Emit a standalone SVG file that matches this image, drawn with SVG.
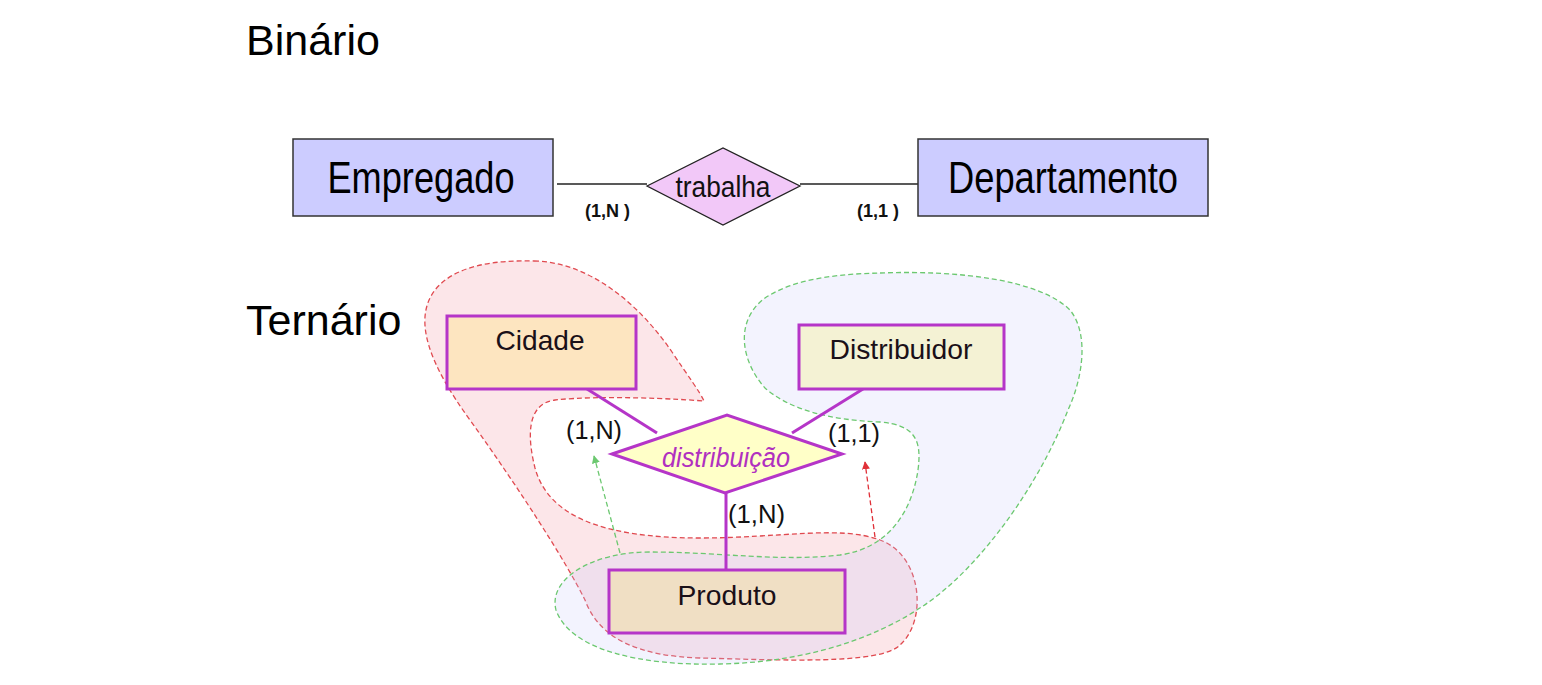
<svg xmlns="http://www.w3.org/2000/svg" width="1542" height="685" viewBox="0 0 1542 685">
<defs>
<style>
.title{font-family:"Liberation Sans",Arial,sans-serif;font-size:43px;fill:#000}
.bent{fill:#ccccff;stroke:#333;stroke-width:1.5}
.btxt{font-family:"Liberation Sans",Arial,sans-serif;font-size:45px;fill:#000;text-anchor:middle}
.blbl{font-family:"Liberation Sans",Arial,sans-serif;font-size:18px;font-weight:bold;fill:#111}
.bline{stroke:#222;stroke-width:1.3;fill:none}
.tent{stroke:#b535c8;stroke-width:3}
.ttxt{font-family:"Liberation Sans",Arial,sans-serif;font-size:28px;fill:#1a1018;text-anchor:middle}
.tline{stroke:#b535c8;stroke-width:3;fill:none}
.card{font-family:"Liberation Sans",Arial,sans-serif;font-size:25px;fill:#111}
.redblob{fill:rgba(235,90,110,0.15);stroke:#e04a50;stroke-width:1.3;stroke-dasharray:5 3}
.greenblob{fill:rgba(200,200,250,0.22);stroke:#6cc870;stroke-width:1.3;stroke-dasharray:5 3}
</style>
<marker id="ag" viewBox="0 0 10 10" refX="9" refY="5" markerWidth="8" markerHeight="8" orient="auto" markerUnits="userSpaceOnUse"><path d="M0,0 L10,5 L0,10 z" fill="#6cc870"/></marker>
<marker id="ar" viewBox="0 0 10 10" refX="9" refY="5" markerWidth="8" markerHeight="8" orient="auto" markerUnits="userSpaceOnUse"><path d="M0,0 L10,5 L0,10 z" fill="#e03038"/></marker>
</defs>
<rect width="1542" height="685" fill="#ffffff"/>

<text class="title" x="246" y="55">Binário</text>
<text class="title" x="246" y="335">Ternário</text>

<g id="blobs">
<path class="redblob" d="M 534 261 C 590 262, 640 305, 672 352 C 688 376, 700 392, 704 401 C 680 399, 600 395, 555 400 C 525 404, 528 440, 535 468 C 548 515, 600 538, 700 538 C 780 538, 840 525, 880 540 C 922 555, 928 620, 900 645 C 880 665, 780 660, 700 658 C 640 656, 600 640, 585 600 C 565 560, 520 490, 470 420 C 430 365, 412 320, 435 290 C 455 265, 495 260, 534 261 Z"/>
<path class="greenblob" d="M 880 273 C 960 270, 1040 280, 1070 310 C 1090 335, 1082 380, 1068 410 C 1045 470, 1000 540, 950 585 C 900 630, 820 662, 720 664 C 640 666, 570 650, 556 610 C 548 580, 590 552, 650 552 C 720 552, 780 562, 840 555 C 890 548, 912 510, 918 470 C 922 440, 915 425, 880 422 C 830 420, 790 410, 765 388 C 740 360, 735 320, 765 298 C 795 278, 840 274, 880 273 Z"/>
</g>

<g id="connectors">
<line class="bline" x1="557" y1="184" x2="647" y2="184"/>
<line class="bline" x1="800" y1="184" x2="918" y2="184"/>
<line class="tline" x1="587" y1="389" x2="657" y2="433"/>
<line class="tline" x1="863" y1="389" x2="792" y2="433"/>
<line class="tline" x1="726" y1="493" x2="726" y2="570"/>
<line x1="620" y1="553" x2="594" y2="456" stroke="#6cc870" stroke-width="1.3" stroke-dasharray="5 3" marker-end="url(#ag)"/>
<line x1="875" y1="537" x2="865" y2="462" stroke="#e03038" stroke-width="1.3" stroke-dasharray="5 3" marker-end="url(#ar)"/>
</g>

<g id="empregado">
<rect class="bent" x="293" y="139" width="260" height="77"/>
<text class="btxt" x="421" y="193" textLength="187" lengthAdjust="spacingAndGlyphs">Empregado</text>
</g>
<g id="departamento">
<rect class="bent" x="918" y="139" width="290" height="77"/>
<text class="btxt" x="1063" y="193" textLength="230" lengthAdjust="spacingAndGlyphs">Departamento</text>
</g>
<g id="trabalha">
<polygon points="647,186 723,148 800,186 723,225" fill="#f2c8f8" stroke="#222" stroke-width="1.3"/>
<text x="723" y="197" font-family="Liberation Sans, Arial, sans-serif" font-size="30" text-anchor="middle" textLength="95" lengthAdjust="spacingAndGlyphs" fill="#111">trabalha</text>
</g>
<g id="card-binario">
<text class="blbl" x="585" y="217" textLength="45" lengthAdjust="spacingAndGlyphs">(1,N )</text>
<text class="blbl" x="857" y="217" textLength="42" lengthAdjust="spacingAndGlyphs">(1,1 )</text>
</g>

<g id="cidade">
<rect class="tent" x="447" y="316" width="189" height="73" fill="#fde5c0"/>
<text class="ttxt" x="540" y="350" textLength="89" lengthAdjust="spacingAndGlyphs">Cidade</text>
</g>
<g id="distribuidor">
<rect class="tent" x="799" y="325" width="205" height="64" fill="#f4f2d4"/>
<text class="ttxt" x="901" y="359" textLength="143" lengthAdjust="spacingAndGlyphs">Distribuidor</text>
</g>
<g id="produto">
<rect class="tent" x="609" y="570" width="236" height="63" fill="#f0dfc4"/>
<text class="ttxt" x="727" y="605" textLength="99" lengthAdjust="spacingAndGlyphs">Produto</text>
</g>
<g id="distribuicao">
<polygon points="612,454 727,415 842,454 725,493" fill="#ffffc8" stroke="#b535c8" stroke-width="3"/>
<text x="726" y="467" font-family="Liberation Sans, Arial, sans-serif" font-size="27" font-style="italic" text-anchor="middle" textLength="128" lengthAdjust="spacingAndGlyphs" fill="#b030c0">distribuição</text>
</g>
<g id="card-ternario">
<text class="card" x="566" y="439" textLength="56" lengthAdjust="spacingAndGlyphs">(1,N)</text>
<text class="card" x="828" y="442" textLength="52" lengthAdjust="spacingAndGlyphs">(1,1)</text>
<text class="card" x="728" y="523" textLength="57" lengthAdjust="spacingAndGlyphs">(1,N)</text>
</g>
</svg>
